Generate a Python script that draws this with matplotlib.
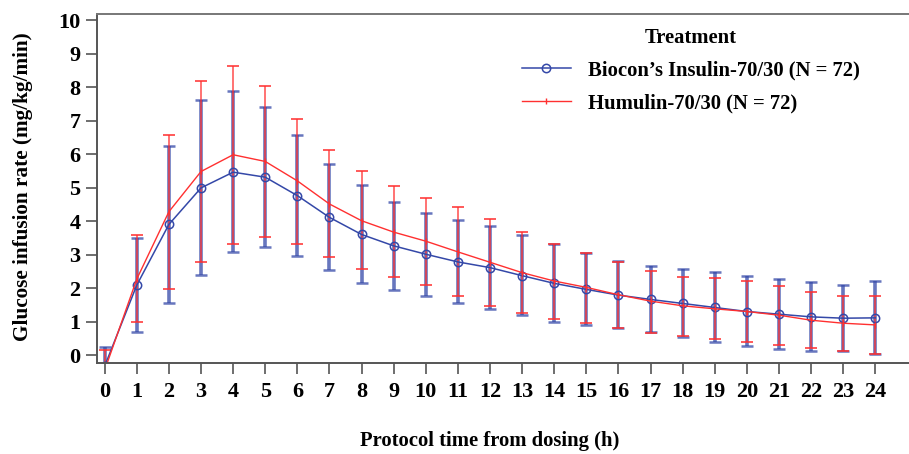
import matplotlib
matplotlib.use('Agg')
import matplotlib.pyplot as plt

# hours after dosing
hours = list(range(25))

# Biocon's Insulin-70/30: mean and error bar ends
biocon_mean = [-0.33, 2.09, 3.90, 4.99, 5.46, 5.31, 4.76, 4.11, 3.60, 3.26, 3.01, 2.78, 2.61,
               2.37, 2.14, 1.96, 1.79, 1.66, 1.54, 1.42, 1.30, 1.22, 1.14, 1.10, 1.11]
biocon_low = [-0.88, 0.68, 1.54, 2.38, 3.07, 3.24, 2.96, 2.53, 2.14, 1.95, 1.77, 1.55, 1.36,
              1.20, 1.00, 0.89, 0.81, 0.68, 0.55, 0.38, 0.27, 0.19, 0.13, 0.12, 0.04]
biocon_high = [0.23, 3.48, 6.24, 7.60, 7.87, 7.40, 6.57, 5.70, 5.07, 4.58, 4.25, 4.03, 3.84,
               3.59, 3.31, 3.05, 2.82, 2.66, 2.58, 2.49, 2.35, 2.26, 2.17, 2.10, 2.21]

# Humulin-70/30
humulin_mean = [-0.45, 2.27, 4.28, 5.48, 5.98, 5.78, 5.20, 4.51, 4.01, 3.67, 3.40, 3.08, 2.77,
                2.46, 2.21, 2.02, 1.80, 1.61, 1.47, 1.38, 1.30, 1.19, 1.04, 0.95, 0.90]
humulin_low = [-1.05, 0.98, 1.96, 2.77, 3.32, 3.53, 3.33, 2.93, 2.56, 2.34, 2.08, 1.77, 1.47,
               1.27, 1.09, 0.96, 0.81, 0.67, 0.57, 0.47, 0.40, 0.31, 0.20, 0.13, 0.03]
humulin_high = [0.15, 3.57, 6.58, 8.19, 8.62, 8.04, 7.04, 6.12, 5.48, 5.04, 4.70, 4.42, 4.07,
                3.66, 3.32, 3.06, 2.79, 2.51, 2.33, 2.29, 2.22, 2.05, 1.88, 1.75, 1.75]

BLUE = '#3448a8'
RED = '#ff3030'
SERIF = ['Liberation Serif', 'DejaVu Serif']

plt.rcParams['font.family'] = SERIF
plt.rcParams['font.weight'] = 'bold'

fig = plt.figure(figsize=(9.09, 4.54), dpi=100)
ax = fig.add_axes([0.1067, 0.201, 0.8933, 0.768])


def yerr(mean, low, high):
    return [[m - l for m, l in zip(mean, low)], [h - m for m, h in zip(mean, high)]]


# blue bars are wider and sit under the thinner red ones
ax.errorbar(hours, biocon_mean, yerr=yerr(biocon_mean, biocon_low, biocon_high),
            fmt='none', ecolor=BLUE, elinewidth=2.6, capsize=4.5, capthick=1.8, alpha=0.75)
ax.errorbar(hours, humulin_mean, yerr=yerr(humulin_mean, humulin_low, humulin_high),
            fmt='none', ecolor=RED, elinewidth=1.2, capsize=4.5, capthick=1.4, alpha=0.8)
ax.plot(hours, biocon_mean, color=BLUE, lw=1.1, marker='o', ms=6, mfc='none', mec=BLUE, mew=1.1,
        label='Biocon\u2019s Insulin-70/30 (N = 72)')
ax.plot(hours, humulin_mean, color=RED, lw=1.0, marker='|', ms=5, mew=1.0,
        label='Humulin-70/30 (N = 72)')

ax.set_xlim(-0.24, 25.05)
ax.set_ylim(-0.23, 10.18)
ax.set_xticks(hours)
ax.set_yticks(range(11))

for side in ['left', 'bottom', 'top']:
    ax.spines[side].set_color('#555555')
    ax.spines[side].set_linewidth(1.4)
ax.spines['top'].set_color('#777777')
ax.spines['right'].set_visible(False)

ax.tick_params(axis='both', colors='#555555', labelcolor='black', labelsize=16, width=1.2)
ax.tick_params(axis='y', length=8, pad=4)
ax.tick_params(axis='x', length=8, pad=6)
for lab in ax.get_xticklabels() + ax.get_yticklabels():
    lab.set_fontweight('bold')

ax.set_ylabel('Glucose infusion rate (mg/kg/min)', fontsize=15.3, fontweight='bold')
ax.yaxis.set_label_coords(-0.079, 0.505)
ax.set_xlabel('Protocol time from dosing (h)', fontsize=14.9, fontweight='bold')
ax.xaxis.set_label_coords(0.483, -0.196)

leg = ax.legend(loc='upper left', bbox_to_anchor=(0.50, 1.013), frameon=False,
                title='Treatment', handlelength=2.4, handletextpad=0.82, labelspacing=0.6,
                prop={'family': SERIF, 'weight': 'bold', 'size': 14.9})
leg.get_title().set_fontweight('bold')
leg.get_title().set_fontsize(14.9)

fig.savefig('out.png', dpi=100)
